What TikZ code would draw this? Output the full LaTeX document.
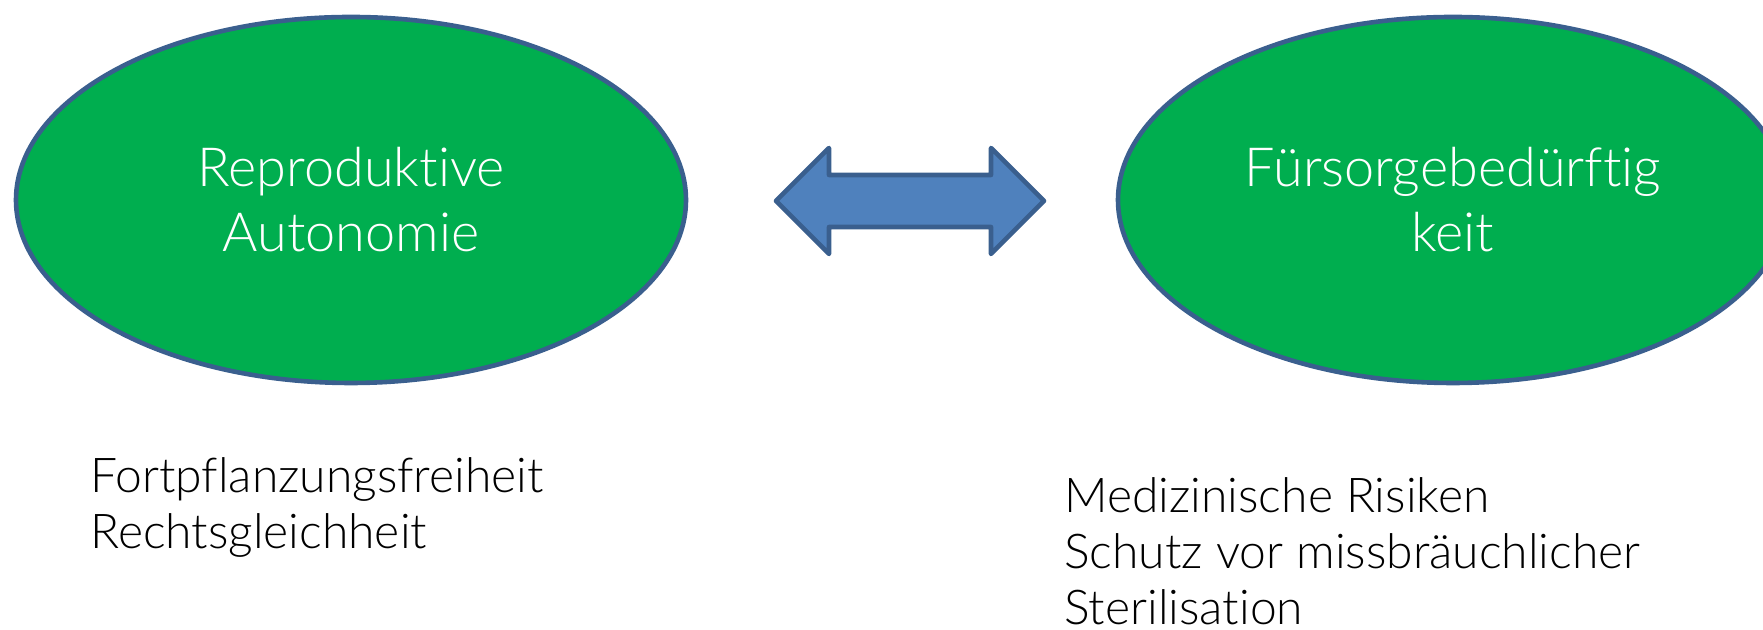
\documentclass[tikz,border=0pt]{standalone}
\usepackage{fontspec}
\setmainfont{Lato}[UprightFont=* Light, Ligatures=NoCommon]
\usetikzlibrary{shapes.geometric,positioning}
\definecolor{ovalgreen}{HTML}{00AE4F}
\definecolor{rimblue}{HTML}{3A5F8E}
\definecolor{arrowblue}{HTML}{4F81BD}
\begin{document}
\begin{tikzpicture}[
		x=0.5pt, y=0.5pt,
		oval/.style={ellipse, draw=rimblue, line width=2.3pt, fill=ovalgreen, minimum width=335pt, minimum height=183pt, text=white, align=center, font=\fontsize{27}{32.5}\selectfont},
		caption/.style={anchor=north west, align=left, inner sep=0pt, font=\fontsize{24}{28}\selectfont},
		dblarrow/.style={draw=rimblue, line width=2.3pt, fill=arrowblue, line join=round},
	]
		\useasboundingbox (0,0) rectangle (1763,630);
		\node[oval] (auto) at (351,430) {Reproduktive\\Autonomie};
		\node[oval] (care) at (1453,430) {Fürsorgebedürftig\\keit};
		\coordinate (mid) at (910,429);

		\node[caption] (autolist) at (90,173) {Fortpflanzungsfreiheit\\Rechtsgleichheit};
		\node[caption] (carelist) at (1064,153) {Medizinische Risiken\\Schutz vor missbräuchlicher\\Sterilisation};

		\draw[dblarrow, shift={(mid)}] (-134,0) -- (-81,53) -- (-81,26) -- (81,26) -- (81,53) -- (134,0) -- (81,-53) -- (81,-26) -- (-81,-26) -- (-81,-53) -- cycle;
	\end{tikzpicture}
\end{document}
